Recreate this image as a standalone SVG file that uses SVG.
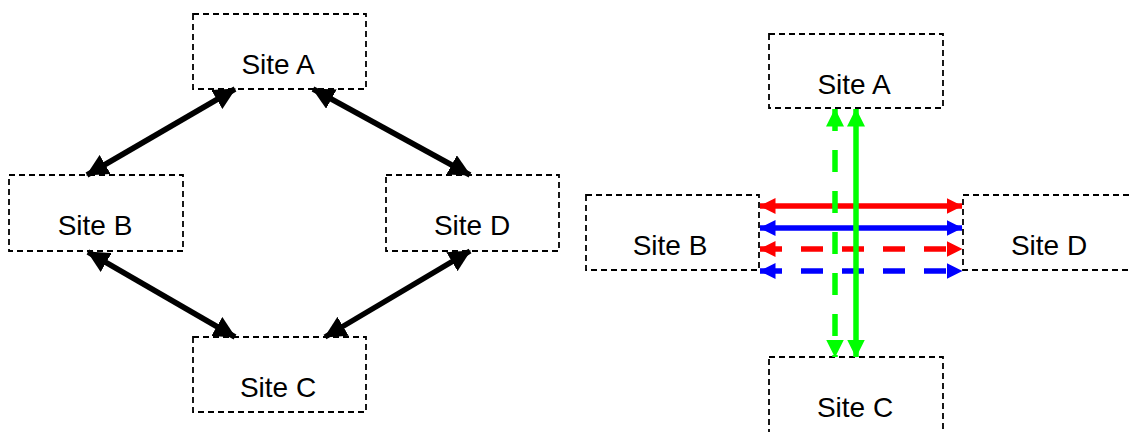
<svg xmlns="http://www.w3.org/2000/svg" width="1129" height="432" viewBox="0 0 1129 432">
<style>
.box{fill:#fff;stroke:#000;stroke-width:1.8;stroke-dasharray:6,4}
.lbl{font-family:"Liberation Sans",Arial,sans-serif;font-size:28px;fill:#000;text-anchor:middle}
.blk{stroke:#000;stroke-width:5.5;fill:none}
.col{stroke-width:5.5;fill:none}
.dsh{stroke-dasharray:22,19}
</style>
<defs>
<marker id="hk" markerUnits="userSpaceOnUse" viewBox="0 0 22 22" refX="21" refY="11" markerWidth="22" markerHeight="22" orient="auto-start-reverse"><path d="M0,0 L22,11 L0,22 Z" fill="#000"/></marker>
<marker id="hr" markerUnits="userSpaceOnUse" viewBox="0 0 16 16" refX="15.5" refY="8" markerWidth="16" markerHeight="16" orient="auto-start-reverse"><path d="M0,0 L16,8 L0,16 Z" fill="#f00"/></marker>
<marker id="hb" markerUnits="userSpaceOnUse" viewBox="0 0 16 16" refX="15.5" refY="8" markerWidth="16" markerHeight="16" orient="auto-start-reverse"><path d="M0,0 L16,8 L0,16 Z" fill="#00f"/></marker>
<marker id="hg" markerUnits="userSpaceOnUse" viewBox="0 0 18 18" refX="17.5" refY="9" markerWidth="18" markerHeight="18" orient="auto-start-reverse"><path d="M0,0 L18,9 L0,18 Z" fill="#0f0"/></marker>
</defs>
<g id="L-siteA"><rect class="box" x="193" y="14" width="173" height="75"/><text class="lbl" x="278" y="74">Site A</text></g>
<g id="L-siteB"><rect class="box" x="9" y="175" width="174" height="76"/><text class="lbl" x="95" y="235">Site B</text></g>
<g id="L-siteD"><rect class="box" x="386" y="175" width="173" height="76"/><text class="lbl" x="472" y="235">Site D</text></g>
<g id="L-siteC"><rect class="box" x="193" y="337" width="173" height="75"/><text class="lbl" x="278" y="397">Site C</text></g>
<g id="R-siteA"><rect class="box" x="769" y="34" width="174" height="74"/><text class="lbl" x="854" y="94">Site A</text></g>
<g id="R-siteB"><rect class="box" x="586" y="195" width="173" height="75"/><text class="lbl" x="670" y="255">Site B</text></g>
<g id="R-siteD"><rect class="box" x="963" y="195" width="180" height="75"/><text class="lbl" x="1049" y="255">Site D</text></g>
<g id="R-siteC"><rect class="box" x="769" y="357" width="174" height="90"/><text class="lbl" x="855" y="417">Site C</text></g>
<g id="connectors">
<line class="blk" x1="235" y1="89" x2="87" y2="175" marker-start="url(#hk)" marker-end="url(#hk)"/>
<line class="blk" x1="313" y1="89" x2="470" y2="175" marker-start="url(#hk)" marker-end="url(#hk)"/>
<line class="blk" x1="88" y1="252" x2="235" y2="337" marker-start="url(#hk)" marker-end="url(#hk)"/>
<line class="blk" x1="470" y1="251" x2="325" y2="337" marker-start="url(#hk)" marker-end="url(#hk)"/>
<line class="col" stroke="#f00" x1="760" y1="206" x2="962" y2="206" marker-start="url(#hr)" marker-end="url(#hr)"/>
<line class="col" stroke="#00f" x1="760" y1="228" x2="962" y2="228" marker-start="url(#hb)" marker-end="url(#hb)"/>
<line class="col dsh" stroke="#f00" x1="760" y1="249" x2="962" y2="249" marker-start="url(#hr)" marker-end="url(#hr)"/>
<line class="col dsh" stroke="#00f" x1="760" y1="271" x2="962" y2="271" marker-start="url(#hb)" marker-end="url(#hb)"/>
<line class="col dsh" stroke="#0f0" x1="835" y1="109" x2="835" y2="357" marker-start="url(#hg)" marker-end="url(#hg)"/>
<line class="col" stroke="#0f0" x1="856" y1="109" x2="856" y2="357" marker-start="url(#hg)" marker-end="url(#hg)"/>
</g>
</svg>
